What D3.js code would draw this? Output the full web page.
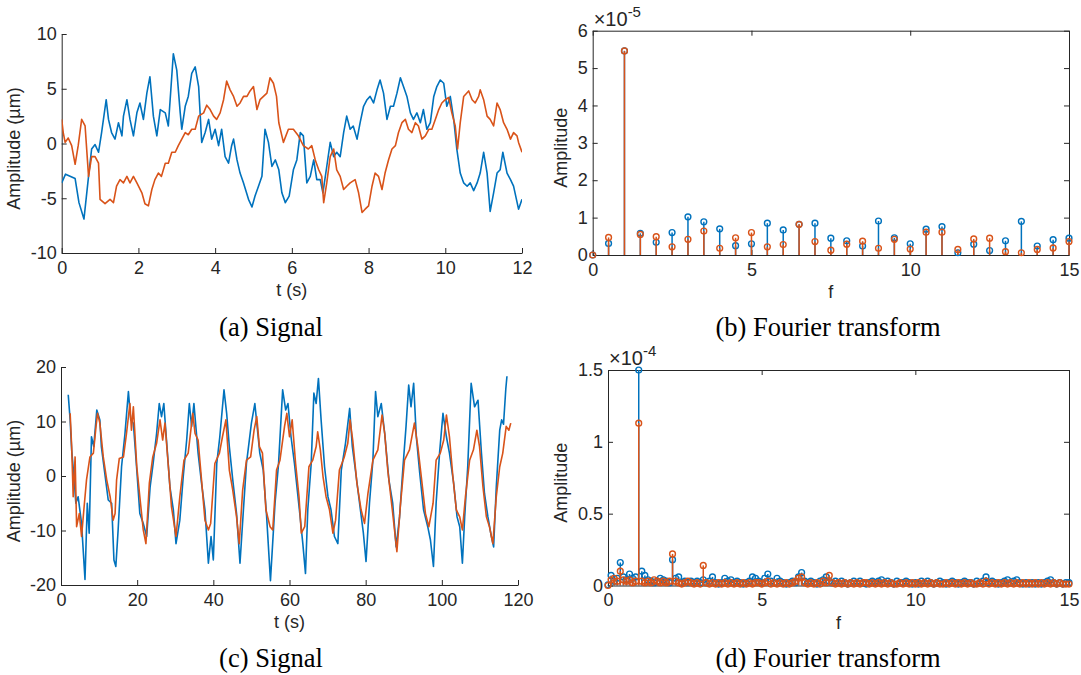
<!DOCTYPE html>
<html>
<head>
<meta charset="utf-8">
<script src="https://cdn.jsdelivr.net/npm/d3@7"></script>
<style>
  body { margin: 0; background: #fff; }
  svg text { font-family: "Liberation Sans", Arial, sans-serif; fill: #262626; }
  .caption { font-family: "Liberation Serif", "Times New Roman", serif; font-size: 26.5px; fill: #000; }
  .expo { font-size: 20px; }
  .expo .sup { font-size: 15px; }
</style>
</head>
<body>
<div id="chart"></div>
<script>
// (a) Signal, 12 s record — [t, amplitude µm]
const sigA_blue = [[0,-3.6],[0.1,-2.8],[0.35,-3.2],[0.45,-5.4],[0.58,-6.9],[0.7,-3.0],[0.78,-0.5],[0.87,-0.1],[0.96,-0.8],[1.04,1.0],[1.16,4.0],[1.22,2.2],[1.3,1.0],[1.39,0.4],[1.48,1.9],[1.57,0.7],[1.61,2.5],[1.7,4.0],[1.78,2.2],[1.87,0.7],[1.96,2.8],[2.04,3.7],[2.13,2.2],[2.22,4.6],[2.3,6.1],[2.39,2.5],[2.48,0.7],[2.57,3.1],[2.7,2.8],[2.78,1.6],[2.91,8.2],[3.0,6.7],[3.09,2.8],[3.13,1.3],[3.22,3.4],[3.3,4.3],[3.39,6.4],[3.48,7.0],[3.57,5.2],[3.65,0.1],[3.74,1.0],[3.83,2.2],[3.91,0.4],[4.0,1.3],[4.09,-0.2],[4.17,1.3],[4.26,-1.2],[4.35,-1.8],[4.43,-0.2],[4.48,0.4],[4.57,-1.5],[4.65,-2.7],[4.74,-3.6],[4.87,-5.1],[4.96,-5.8],[5.04,-4.8],[5.13,-3.9],[5.22,-3.0],[5.3,1.3],[5.39,0.1],[5.48,-2.1],[5.57,-1.5],[5.66,-2.4],[5.74,-4.5],[5.83,-5.4],[5.93,-4.8],[6.04,-2.4],[6.13,-1.5],[6.22,1.0],[6.3,0.7],[6.39,-3.6],[6.48,-3.0],[6.57,-1.5],[6.65,-3.3],[6.74,-3.3],[6.81,-4.5],[6.91,-2.1],[7.0,0.1],[7.09,-1.2],[7.17,-0.8],[7.26,-1.2],[7.35,1.0],[7.43,2.5],[7.52,1.3],[7.6,1.6],[7.7,0.4],[7.78,1.9],[7.87,3.4],[7.96,4.0],[8.04,4.3],[8.13,3.7],[8.22,4.9],[8.3,5.8],[8.39,4.6],[8.48,2.2],[8.57,3.4],[8.65,3.4],[8.74,4.6],[8.83,6.0],[8.91,5.2],[9.0,4.3],[9.09,2.8],[9.17,2.2],[9.26,2.8],[9.35,1.9],[9.43,3.1],[9.52,1.3],[9.61,1.9],[9.7,4.3],[9.78,5.2],[9.87,5.8],[9.96,5.5],[10.04,3.4],[10.13,4.3],[10.22,2.2],[10.3,-0.5],[10.39,-2.7],[10.48,-3.6],[10.57,-3.9],[10.65,-3.6],[10.74,-4.3],[10.83,-3.6],[10.91,-2.7],[11.0,-0.8],[11.09,-2.7],[11.17,-6.2],[11.26,-4.5],[11.35,-2.7],[11.43,-2.4],[11.5,-0.8],[11.61,-2.7],[11.7,-3.3],[11.78,-3.9],[11.91,-6.0],[12.0,-5.1]];
const sigA_orange = [[0,2.2],[0.04,1.0],[0.09,0.1],[0.17,0.5],[0.26,-0.2],[0.35,-1.9],[0.43,-0.2],[0.52,2.2],[0.61,1.6],[0.7,-3.0],[0.78,-1.2],[0.87,-1.2],[0.96,-1.8],[1.0,-5.1],[1.13,-5.5],[1.26,-5.1],[1.35,-5.4],[1.43,-3.9],[1.52,-3.3],[1.61,-3.6],[1.7,-3.0],[1.78,-3.6],[1.87,-3.0],[1.96,-3.6],[2.09,-4.5],[2.17,-5.5],[2.26,-5.7],[2.35,-4.2],[2.43,-3.3],[2.52,-2.7],[2.6,-3.0],[2.7,-1.8],[2.78,-1.8],[2.87,-0.8],[2.96,-0.8],[3.04,-0.2],[3.13,0.4],[3.22,1.0],[3.3,0.8],[3.39,1.3],[3.48,1.3],[3.57,2.5],[3.7,2.8],[3.78,3.5],[3.87,3.1],[3.96,2.5],[4.04,2.2],[4.13,2.8],[4.22,4.0],[4.3,5.7],[4.39,4.9],[4.48,4.3],[4.57,3.4],[4.65,3.7],[4.74,4.3],[4.83,4.3],[4.91,4.8],[5.0,5.2],[5.09,3.1],[5.17,4.0],[5.26,4.3],[5.35,4.6],[5.43,6.0],[5.52,5.5],[5.6,4.3],[5.66,1.9],[5.78,0.1],[5.91,1.3],[6.04,1.3],[6.17,0.7],[6.3,-0.2],[6.43,-0.5],[6.52,-0.2],[6.61,-1.5],[6.7,-2.4],[6.78,-3.0],[6.83,-5.4],[6.91,-3.6],[7.0,-1.2],[7.09,-0.5],[7.17,-2.4],[7.26,-3.0],[7.35,-4.2],[7.43,-3.9],[7.52,-3.6],[7.65,-3.3],[7.74,-4.5],[7.83,-6.3],[7.91,-6.0],[8.0,-5.7],[8.09,-3.9],[8.17,-2.7],[8.26,-3.0],[8.35,-4.2],[8.43,-2.7],[8.52,-1.5],[8.61,-0.5],[8.7,-0.2],[8.78,1.0],[8.87,1.9],[8.96,2.2],[9.04,1.3],[9.13,1.0],[9.22,1.9],[9.3,1.6],[9.39,0.4],[9.48,0.7],[9.57,1.3],[9.65,1.3],[9.74,2.2],[9.83,3.1],[9.91,3.7],[10.0,4.0],[10.09,4.2],[10.17,2.8],[10.26,1.6],[10.32,-0.5],[10.39,1.9],[10.48,4.3],[10.61,4.8],[10.7,4.0],[10.78,3.7],[10.87,4.3],[10.91,4.9],[11.0,4.0],[11.09,2.5],[11.17,2.2],[11.26,1.6],[11.35,3.7],[11.43,3.1],[11.52,1.9],[11.61,1.3],[11.7,0.4],[11.78,1.0],[11.87,0.7],[11.91,0.1],[12.0,-0.8]];

// (b) Fourier transform of (a), amplitude x1e-5
const fftB_freq = [0,0.5,1,1.5,2,2.5,3,3.5,4,4.5,5,5.5,6,6.5,7,7.5,8,8.5,9,9.5,10,10.5,11,11.5,12,12.5,13,13.5,14,14.5,15];
const fftB_blue = [0,0.31,5.46,0.58,0.34,0.60,1.02,0.89,0.70,0.25,0.30,0.85,0.67,0.82,0.85,0.45,0.38,0.24,0.91,0.46,0.30,0.69,0.76,0.06,0.29,0.12,0.38,0.90,0.24,0.41,0.45];
const fftB_orange = [0,0.47,5.46,0.55,0.49,0.22,0.42,0.64,0.18,0.46,0.60,0.22,0.28,0.82,0.36,0.13,0.29,0.37,0.18,0.42,0.16,0.61,0.61,0.15,0.43,0.45,0.09,0.06,0.15,0.19,0.36];

// (c) Signal, 120 s record — [t, amplitude µm]
const sigC_blue = [[1.9,14.9],[2.4,10.3],[2.8,4.8],[3.4,-0.1],[3.9,-5],[4.5,-3.8],[5.4,-8.7],[6.3,-19],[6.9,-5],[7.4,-10.5],[8.0,7.2],[8.6,5.4],[9.4,12.1],[10.2,10.3],[10.6,5.4],[11.5,0.5],[12.4,-4.4],[13.3,-5],[13.9,-15.4],[14.4,-16.6],[15.0,-9.9],[15.9,1.7],[16.8,7.8],[17.7,15.5],[18.3,10.3],[19.0,9.7],[19.9,1.1],[20.7,-6.9],[21.6,-8.7],[22.5,-11.1],[23.4,-2],[24.2,2.3],[25.1,7.8],[25.8,13.3],[26.4,10.9],[27.0,13.3],[27.7,6.6],[28.6,-2],[29.5,-6.2],[30.2,-12.4],[31.2,-8.1],[32.1,-0.1],[33.0,6.6],[33.7,13.3],[34.3,9.1],[34.9,13.3],[36.0,4.2],[36.9,-1.3],[37.8,-6.2],[38.7,-16],[39.4,-11.1],[40.0,-15.4],[40.9,2.3],[41.7,7.2],[42.8,15.8],[43.5,11.5],[44.2,5.4],[45.1,-0.7],[46.1,-6.9],[47.0,-16],[47.9,-6.2],[48.7,2.3],[50.0,9.7],[50.9,13.3],[51.5,9.1],[52.2,4.2],[53.1,1.1],[54.0,-7.5],[55.0,-19.2],[56.2,-5],[57.1,2],[58.2,15.8],[59.0,12.1],[59.6,13.3],[60.4,7.2],[61.3,2.3],[62.6,-6.2],[63.5,-12.4],[64.2,-17.9],[64.8,-6.2],[65.7,2.3],[66.4,15.2],[67.0,13.3],[67.6,17.9],[68.3,10.3],[69.2,1.7],[70.1,-3.8],[70.9,-6.2],[71.8,-11.1],[72.7,-12.4],[73.6,1.1],[74.7,6],[75.8,12.4],[76.5,5.4],[77.3,1.1],[78.4,-5],[79.4,-10.5],[80.1,-15.7],[81.0,-5],[81.9,2.9],[82.6,15.5],[83.2,10.9],[84.1,13.3],[85.0,7.8],[86.1,-0.7],[87.1,-5],[88.0,-13],[88.9,-7.5],[89.8,1.7],[90.6,9.1],[91.3,16.7],[91.9,12.7],[92.6,17],[93.3,7.2],[94.2,0.5],[95.2,-6.2],[96.3,-9.3],[97.0,-11.7],[97.8,-16.6],[98.5,-5],[99.4,4.2],[100.3,11.5],[101.2,7.2],[102.0,4.2],[103.1,-1.3],[104.0,-7.5],[104.7,-9.3],[105.4,-16],[106.0,-7.5],[106.8,1.7],[107.7,17],[108.6,12.7],[109.5,13.9],[110.4,4.2],[111.2,-3.2],[112.1,-7.5],[113.0,-11.1],[113.6,-13],[114.3,-2],[115.2,8.4],[115.7,10.3],[116.2,9.5],[116.8,16],[117.1,18.3]];
const sigC_orange = [[2.4,11.5],[2.8,5.4],[3.2,-3.8],[3.7,3.5],[4.1,-9.3],[4.8,-6.9],[5.4,-11.1],[6.0,-6.2],[6.7,-0.7],[7.6,3.5],[8.5,4.2],[9.2,9.1],[9.6,11.5],[10.2,9.7],[11.1,3.5],[12.0,-0.7],[12.9,-3.8],[13.7,-8.1],[14.2,-6.9],[14.6,-0.7],[15.3,3.2],[16.4,3.5],[17.2,7.8],[18.1,13.3],[18.5,8.4],[19.0,12.7],[19.9,1.7],[20.7,-3.8],[21.6,-9.9],[22.3,-12.4],[23.2,-1.3],[24.1,3.5],[25.1,6],[26.0,10.3],[26.7,6.6],[27.3,9.7],[28.2,1.7],[29.0,-5.6],[30.2,-11.1],[31.2,-3.8],[32.3,2.9],[33.4,4.2],[34.6,11.5],[35.2,7.8],[36.0,6.6],[36.9,-0.7],[37.8,-8.1],[38.7,-9.9],[39.3,-8.7],[40.4,2.3],[41.6,4.2],[42.4,7.2],[43.3,10.3],[44.2,1.1],[45.1,-2.6],[46.1,-7.5],[46.8,-12.4],[47.7,-2.6],[48.7,2.9],[49.8,3.5],[50.7,8.4],[51.4,10.9],[52.1,5.4],[52.9,4.2],[53.8,-6.2],[54.9,-9.3],[55.6,-9.9],[56.6,1.1],[57.5,2.9],[58.7,9.1],[59.3,11.5],[60.0,7.2],[60.7,10.3],[61.6,2.3],[62.5,-3.8],[63.1,-10.5],[64.0,-9.3],[65.1,1.7],[66.1,2.9],[67.0,5.4],[67.4,8.1],[68.1,4.8],[68.8,-0.1],[69.6,-3.8],[70.5,-6.2],[71.4,-10.5],[72.1,-8.1],[73.1,1.1],[74.4,3.5],[75.3,6],[75.9,10.3],[76.6,6.6],[77.7,-1.3],[78.8,-6.2],[79.7,-8.7],[80.6,-3.2],[81.9,2.9],[83.2,4.8],[84.3,11.2],[85.0,7.8],[85.8,1.1],[87.0,-6.2],[88.2,-13.9],[89.1,-5.6],[90.2,2.9],[91.5,4.8],[92.8,9.7],[93.7,5.4],[94.6,-0.1],[95.7,-6.9],[96.6,-9.3],[97.7,-5],[98.5,2.9],[99.6,4.2],[100.5,6.6],[101.2,11.2],[102.0,7.2],[102.9,-0.1],[103.8,-6.2],[104.7,-7.5],[105.4,-9.9],[106.2,-3.8],[107.3,2.9],[108.3,4.8],[109.2,8.4],[109.9,5.4],[110.8,-2],[111.7,-7.5],[112.5,-9.3],[113.4,-12.4],[114.3,-3.8],[115.2,1.7],[116.0,4.2],[116.9,9.1],[117.6,8.4],[118.1,9.7]];

// (d) Fourier transform of (c), amplitude x1e-4, sampled every 0.1 on f
const fftD_freq = d3.range(0, 151).map(i => i / 10);
const fftD_blue = [
  0.005,0.07,0.03,0.05,0.16,0.06,0.04,0.08,0.05,0.06,
  1.50,0.10,0.07,0.04,0.03,0.02,0.03,0.05,0.04,0.03,
  0.02,0.18,0.05,0.06,0.02,0.03,0.02,0.03,0.02,0.03,
  0.02,0.04,0.02,0.03,0.06,0.02,0.01,0.02,0.05,0.03,
  0.04,0.02,0.03,0.02,0.01,0.02,0.03,0.06,0.05,0.03,
  0.02,0.05,0.08,0.03,0.02,0.05,0.03,0.02,0.01,0.02,
  0.03,0.02,0.06,0.09,0.03,0.02,0.03,0.02,0.01,0.03,
  0.04,0.06,0.03,0.02,0.03,0.02,0.03,0.02,0.01,0.02,
  0.03,0.02,0.03,0.02,0.01,0.02,0.03,0.02,0.03,0.04,
  0.02,0.03,0.02,0.01,0.03,0.02,0.02,0.03,0.02,0.01,
  0.02,0.01,0.03,0.02,0.03,0.02,0.01,0.02,0.03,0.02,
  0.01,0.02,0.03,0.02,0.01,0.02,0.03,0.02,0.02,0.01,
  0.03,0.02,0.03,0.06,0.02,0.03,0.02,0.01,0.02,0.03,
  0.04,0.02,0.03,0.04,0.02,0.01,0.02,0.01,0.02,0.01,
  0.02,0.01,0.02,0.03,0.04,0.02,0.01,0.02,0.01,0.02,
  0.02];
const fftD_orange = [
  0.0,0.04,0.05,0.03,0.10,0.04,0.03,0.04,0.02,0.03,
  1.13,0.03,0.02,0.03,0.02,0.04,0.03,0.02,0.03,0.02,
  0.03,0.22,0.03,0.02,0.01,0.02,0.03,0.02,0.01,0.02,
  0.01,0.14,0.02,0.01,0.02,0.01,0.02,0.01,0.02,0.01,
  0.02,0.01,0.02,0.01,0.02,0.01,0.02,0.01,0.02,0.02,
  0.01,0.02,0.03,0.01,0.02,0.01,0.02,0.01,0.02,0.01,
  0.02,0.03,0.05,0.06,0.02,0.01,0.02,0.01,0.02,0.01,
  0.03,0.02,0.07,0.02,0.01,0.02,0.01,0.02,0.01,0.02,
  0.01,0.02,0.01,0.02,0.02,0.01,0.02,0.01,0.02,0.01,
  0.02,0.01,0.02,0.01,0.01,0.02,0.01,0.02,0.01,0.02,
  0.01,0.02,0.01,0.02,0.01,0.02,0.01,0.02,0.01,0.01,
  0.02,0.01,0.02,0.01,0.02,0.01,0.02,0.01,0.02,0.01,
  0.01,0.02,0.01,0.03,0.01,0.02,0.01,0.02,0.01,0.02,
  0.01,0.02,0.01,0.02,0.01,0.02,0.01,0.02,0.01,0.02,
  0.01,0.02,0.01,0.02,0.01,0.02,0.01,0.02,0.01,0.01,
  0.01];

const BLUE = "#0072BD", ORANGE = "#D95319", AXIS = "#262626";

const svg = d3.select("#chart").append("svg")
  .attr("width", 1081)
  .attr("height", 675);

// one panel: axes box [x0,x1] x [yTop,yBottom]
function makePanel(p) {
  const x = d3.scaleLinear().domain(p.xDomain).range([p.x0, p.x1]);
  const y = d3.scaleLinear().domain(p.yDomain).range([p.yBottom, p.yTop]);
  const g = svg.append("g");

  g.append("clipPath").attr("id", p.id + "-clip")
    .append("rect")
    .attr("x", p.x0).attr("y", p.yTop - 4)
    .attr("width", p.x1 - p.x0).attr("height", p.yBottom - p.yTop + 4);

  const styleAxis = sel => {
    sel.select(".domain").attr("stroke", AXIS).attr("stroke-width", 1);
    sel.selectAll(".tick line").attr("stroke", AXIS);
    sel.selectAll(".tick text").attr("fill", AXIS).style("font-size", "18px")
      .style("font-family", "'Liberation Sans', Arial, sans-serif");
  };

  const fmt = d => d < 0 ? "-" + Math.abs(d) : String(d);

  g.append("g")
    .attr("transform", `translate(0,${p.yBottom})`)
    .call(d3.axisBottom(x).tickValues(p.xTicks).tickFormat(fmt)
      .tickSizeInner(-5).tickSizeOuter(0).tickPadding(8))
    .call(styleAxis);

  g.append("g")
    .attr("transform", `translate(${p.x0},0)`)
    .call(d3.axisLeft(y).tickValues(p.yTicks).tickFormat(fmt)
      .tickSizeInner(-5).tickSizeOuter(0).tickPadding(5))
    .call(styleAxis);

  if (p.box) {
    g.append("g")
      .attr("transform", `translate(0,${p.yTop})`)
      .call(d3.axisTop(x).tickValues(p.xTicks).tickFormat("")
        .tickSizeInner(-5).tickSizeOuter(0))
      .call(styleAxis);
    g.append("g")
      .attr("transform", `translate(${p.x1},0)`)
      .call(d3.axisRight(y).tickValues(p.yTicks).tickFormat("")
        .tickSizeInner(-5).tickSizeOuter(0))
      .call(styleAxis);
  }

  // axis labels
  g.append("text")
    .attr("x", (p.x0 + p.x1) / 2)
    .attr("y", p.yBottom + 43)
    .attr("text-anchor", "middle")
    .style("font-size", "18px")
    .text(p.xLabel);

  g.append("text")
    .attr("transform", `translate(${p.yLabelX},${(p.yTop + p.yBottom) / 2 + 5}) rotate(-90)`)
    .attr("text-anchor", "middle")
    .style("font-size", "18px")
    .text(p.yLabel);

  if (p.exponent) {
    const t = g.append("text")
      .attr("class", "expo")
      .attr("x", p.x0 + 1)
      .attr("y", p.yTop - 5)
      .attr("font-size", 20);
    t.append("tspan").attr("font-size", 20).style("font-size", "20px").text("×10");
    t.append("tspan").attr("class", "sup").attr("dy", -9)
      .attr("font-size", 15).style("font-size", "15px").text(p.exponent);
  }

  // caption
  svg.append("text")
    .attr("class", "caption")
    .attr("x", p.captionX)
    .attr("y", p.captionY)
    .attr("text-anchor", "middle")
    .text(p.caption);

  const plot = g.append("g").attr("clip-path", `url(#${p.id}-clip)`);
  return { x, y, plot };
}

function drawSignal(panel, series, color) {
  const line = d3.line()
    .x(d => panel.x(d[0]))
    .y(d => panel.y(d[1]));
  panel.plot.append("path")
    .datum(series)
    .attr("fill", "none")
    .attr("stroke", color)
    .attr("stroke-width", 1.6)
    .attr("stroke-linejoin", "round")
    .attr("d", line);
}

function drawStems(panel, freq, values, color) {
  const data = freq.map((f, i) => ({ f, v: values[i] }));
  const grp = svg.append("g");
  grp.selectAll("line")
    .data(data)
    .enter()
    .append("line")
    .attr("x1", d => panel.x(d.f))
    .attr("x2", d => panel.x(d.f))
    .attr("y1", panel.y(0))
    .attr("y2", d => panel.y(d.v))
    .attr("stroke", color)
    .attr("stroke-width", 1.5);
  grp.selectAll("circle")
    .data(data)
    .enter()
    .append("circle")
    .attr("cx", d => panel.x(d.f))
    .attr("cy", d => panel.y(d.v))
    .attr("r", 2.9)
    .attr("fill", "none")
    .attr("stroke", color)
    .attr("stroke-width", 1.4);
}

const panelA = makePanel({
  id: "a", x0: 61.7, x1: 522, yTop: 34, yBottom: 253,
  xDomain: [0, 12], yDomain: [-10, 10],
  xTicks: [0, 2, 4, 6, 8, 10, 12], yTicks: [-10, -5, 0, 5, 10],
  xLabel: "t (s)", yLabel: "Amplitude (µm)", yLabelX: 20,
  caption: "(a) Signal", captionX: 271, captionY: 336, box: false
});
drawSignal(panelA, sigA_blue, BLUE);
drawSignal(panelA, sigA_orange, ORANGE);

const panelB = makePanel({
  id: "b", x0: 592.7, x1: 1069, yTop: 30.7, yBottom: 255,
  xDomain: [0, 15], yDomain: [0, 6],
  xTicks: [0, 5, 10, 15], yTicks: [0, 1, 2, 3, 4, 5, 6],
  xLabel: "f", yLabel: "Amplitude", yLabelX: 567,
  exponent: "-5",
  caption: "(b) Fourier transform", captionX: 828, captionY: 336, box: true
});
drawStems(panelB, fftB_freq, fftB_blue, BLUE);
drawStems(panelB, fftB_freq, fftB_orange, ORANGE);

const panelC = makePanel({
  id: "c", x0: 61, x1: 518, yTop: 367, yBottom: 585,
  xDomain: [0, 120], yDomain: [-20, 20],
  xTicks: [0, 20, 40, 60, 80, 100, 120], yTicks: [-20, -10, 0, 10, 20],
  xLabel: "t (s)", yLabel: "Amplitude (µm)", yLabelX: 20,
  caption: "(c) Signal", captionX: 271, captionY: 667, box: false
});
drawSignal(panelC, sigC_blue, BLUE);
drawSignal(panelC, sigC_orange, ORANGE);

const panelD = makePanel({
  id: "d", x0: 608, x1: 1069, yTop: 370, yBottom: 585.5,
  xDomain: [0, 15], yDomain: [0, 1.5],
  xTicks: [0, 5, 10, 15], yTicks: [0, 0.5, 1, 1.5],
  xLabel: "f", yLabel: "Amplitude", yLabelX: 567,
  exponent: "-4",
  caption: "(d) Fourier transform", captionX: 828, captionY: 667, box: true
});
drawStems(panelD, fftD_freq, fftD_blue, BLUE);
drawStems(panelD, fftD_freq, fftD_orange, ORANGE);
</script>
</body>
</html>
